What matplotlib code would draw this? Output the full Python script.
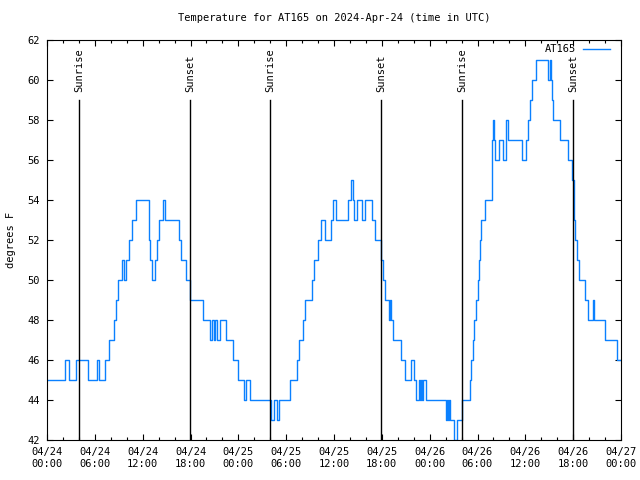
import pandas as pd
import numpy as np
import matplotlib
matplotlib.use('Agg')
import matplotlib.pyplot as plt
import matplotlib.dates as mdates

plt.rcParams['font.family'] = ['DejaVu Sans Mono', 'DejaVu Sans']

# temperature readings, hours after 2024-04-24 00:00 UTC (value held until next change)
hours = [0.0, 2.3, 2.7, 3.6, 5.1, 6.3, 6.5, 7.3, 7.8, 8.45, 8.65, 8.85, 9.45, 9.6, 9.9,
         10.3, 10.7, 11.2, 12.75, 12.85, 12.95, 13.15, 13.6, 13.85, 14.1, 14.55, 14.85,
         16.5, 16.8, 17.4, 17.95, 19.6, 20.45, 20.7, 20.9, 21.1, 21.3, 21.7, 22.5, 23.35,
         23.9, 24.75, 25.0, 25.45, 28.1, 28.45, 28.8, 29.1, 30.5, 31.3, 31.6, 32.1, 32.3,
         33.3, 33.5, 34.0, 34.4, 34.85, 35.65, 35.9, 36.25, 37.75, 38.1, 38.35, 38.45,
         38.85, 39.5, 39.85, 40.75, 41.1, 41.85, 42.2, 42.4, 42.9, 43.05, 43.2, 43.4,
         44.35, 44.85, 45.65, 46.05, 46.25, 46.6, 46.75, 46.95, 47.1, 47.2, 47.55, 50.0,
         50.15, 50.3, 50.45, 50.6, 51.1, 51.4, 52.05, 53.0, 53.2, 53.4, 53.6, 53.8, 54.0,
         54.15, 54.3, 54.45, 55.0, 55.8, 55.95, 56.05, 56.15, 56.7, 57.25, 57.55, 57.8,
         59.55, 60.1, 60.3, 60.55, 60.8, 61.3, 62.85, 63.05, 63.2, 63.3, 63.45, 64.3,
         65.35, 65.85, 66.1, 66.25, 66.5, 66.75, 67.5, 67.9, 68.45, 68.6, 70.0, 71.5, 72.0]
temps = [45, 46, 45, 46, 45, 46, 45, 46, 47, 48, 49, 50, 51, 50, 51,
         52, 53, 54, 53, 52, 51, 50, 51, 52, 53, 54, 53,
         52, 51, 50, 49, 48, 47, 48, 47, 48, 47, 48, 47, 46,
         45, 44, 45, 44, 43, 44, 43, 44, 45, 46, 47, 48, 49,
         50, 51, 52, 53, 52, 53, 54, 53, 54, 55, 54, 53,
         54, 53, 54, 53, 52, 51, 50, 49, 48, 49, 48, 47,
         46, 45, 46, 45, 44, 45, 44, 45, 44, 45, 44, 43,
         44, 43, 44, 43, 42, 43, 44, 45, 46, 47, 48, 49, 50,
         51, 52, 53, 54, 57, 58, 57, 56, 57, 56, 58, 57,
         56, 57, 58, 59, 60, 61, 60, 61, 60, 59, 58, 57,
         56, 55, 53, 52, 51, 50, 49, 48, 49, 48, 47, 46, 46]

sunrise_h = [4.05, 28.0, 52.1]
sunset_h = [17.98, 41.94, 66.02]

base = pd.Timestamp('2024-04-24 00:00')
times = base + pd.to_timedelta(hours, unit='h')

fig = plt.figure(figsize=(6.4, 4.8), dpi=100)
ax = fig.add_axes([47/640, 40/480, 574/640, 400/480])

ax.plot(times, temps, color='#0a80ff', lw=1.0, drawstyle='steps-post', label='AT165')

# sunrise / sunset markers
for h, name in [(h, 'Sunrise') for h in sunrise_h] + [(h, 'Sunset') for h in sunset_h]:
    t = base + pd.Timedelta(hours=h)
    ax.plot([t, t], [42, 59], color='black', lw=1.0)
    ax.text(t, 59.4, name, rotation=90, ha='center', va='bottom', fontsize=7.5)

ax.set_xlim(base, base + pd.Timedelta(hours=72))
ax.set_ylim(42, 62)
ax.set_yticks(np.arange(42, 63, 2))
ax.xaxis.set_major_locator(mdates.HourLocator(byhour=range(0, 24, 6)))
ax.xaxis.set_minor_locator(mdates.HourLocator(byhour=range(0, 24, 2)))
ax.xaxis.set_major_formatter(mdates.DateFormatter('%m/%d\n%H:%M'))
ax.tick_params(which='both', direction='in', top=True, right=True, labelsize=7.5, pad=5)
ax.tick_params(which='major', length=4, width=0.8)
ax.tick_params(which='minor', length=2.5, width=0.8)

ax.set_ylabel('degrees F', fontsize=7.5, labelpad=8)
ax.set_title('Temperature for AT165 on 2024-Apr-24 (time in UTC)', fontsize=7.5, pad=14)
ax.legend(loc='upper right', bbox_to_anchor=(0.9878, 1.0), frameon=False,
          markerfirst=False, fontsize=7.5, handlelength=2.6, borderaxespad=0,
          handletextpad=0.6)

plt.savefig('out.png', dpi=100)
